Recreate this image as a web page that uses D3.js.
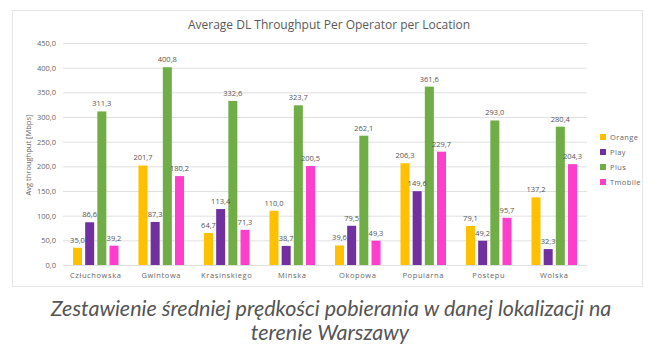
<!DOCTYPE html>
<html>
<head>
<meta charset="utf-8">
<script src="https://cdn.jsdelivr.net/npm/d3@7"></script>
<style>
    body { margin: 0; background: #fff; }
    #chart { width: 655px; height: 350px; }
</style>
</head>
<body>
<div id="chart"></div>
<script>
const locations = ['Człuchowska', 'Gwintowa', 'Krasinskiego', 'Minska', 'Okopowa', 'Popularna', 'Postepu', 'Wolska'];
const operators = ['Orange', 'Play', 'Plus', 'Tmobile'];
const orangeValues = [35.0, 201.7, 64.7, 110.0, 39.6, 206.3, 79.1, 137.2];
const playValues = [86.6, 87.3, 113.4, 38.7, 79.5, 149.6, 49.2, 32.3];
const plusValues = [311.3, 400.8, 332.6, 323.7, 262.1, 361.6, 293.0, 280.4];
const tmobileValues = [39.2, 180.2, 71.3, 200.5, 49.3, 229.7, 95.7, 204.3];
const yTicks = [0, 50, 100, 150, 200, 250, 300, 350, 400, 450];

const colors = ['#FFC000', '#7030A0', '#70AD47', '#FF3FCC'];
const series = [orangeValues, playValues, plusValues, tmobileValues];

let width = 655;
let height = 350;
let margin = { top: 43, right: 68, bottom: 85, left: 63 };

let fmt = v => d3.format('.1f')(v).replace('.', ',');

let data = locations.map((loc, i) => ({
    loc: loc,
    values: operators.map((op, j) => ({ op: op, value: series[j][i], color: colors[j] }))
}));

let x0 = d3.scaleBand()
    .domain(locations)
    .range([margin.left, width - margin.right])
    .paddingInner(0.305)
    .paddingOuter(0.1525);

let x1 = d3.scaleBand()
    .domain(operators)
    .range([0, x0.bandwidth()])
    .paddingInner(0.26);

let y = d3.scaleLinear()
    .domain([0, 450])
    .range([height - margin.bottom, margin.top]);

const svg = d3.select('#chart')
    .append('svg')
    .attr('width', width)
    .attr('height', height);

// chart frame
svg.append('rect')
    .attr('x', 12.5)
    .attr('y', 10.5)
    .attr('width', 630)
    .attr('height', 276)
    .attr('fill', '#fff')
    .attr('stroke', '#e6e6e6');

// gridlines + y labels
let yAxis = g => g
    .attr('transform', `translate(${margin.left},0)`)
    .call(d3.axisLeft(y)
        .tickValues(yTicks)
        .tickSize(-(width - margin.left - margin.right))
        .tickPadding(7)
        .tickFormat(fmt))
    .call(g => g.select('.domain').remove())
    .call(g => g.selectAll('.tick line').attr('stroke', '#e0e0e0'))
    .call(g => g.selectAll('.tick text')
        .attr('fill', '#666')
        .attr('font-size', '7.5px')
        .attr('font-family', 'Open Sans, sans-serif'));

svg.append('g').call(yAxis);

// x labels
let xAxis = g => g
    .attr('transform', `translate(0,${height - margin.bottom})`)
    .call(d3.axisBottom(x0).tickSize(0).tickPadding(8))
    .call(g => g.select('.domain').remove())
    .call(g => g.selectAll('.tick text')
        .attr('fill', '#666')
        .attr('font-size', '7.5px')
        .attr('letter-spacing', '0.6px')
        .attr('font-family', 'Open Sans, sans-serif'));

svg.append('g').call(xAxis);

// bars
let groups = svg.append('g')
    .selectAll('g')
    .data(data)
    .join('g')
    .attr('transform', d => `translate(${x0(d.loc)},0)`);

groups.selectAll('rect')
    .data(d => d.values)
    .join('rect')
    .attr('x', d => x1(d.op))
    .attr('y', d => y(d.value))
    .attr('width', x1.bandwidth())
    .attr('height', d => y(0) - y(d.value))
    .attr('fill', d => d.color);

groups.selectAll('text')
    .data(d => d.values)
    .join('text')
    .attr('x', d => x1(d.op) + x1.bandwidth() / 2)
    .attr('y', d => y(d.value) - 5)
    .attr('text-anchor', 'middle')
    .attr('fill', '#555')
    .attr('font-size', '7.5px')
    .attr('font-family', 'Open Sans, sans-serif')
    .text(d => fmt(d.value));

// title
svg.append('text')
    .attr('x', 329)
    .attr('y', 29)
    .attr('text-anchor', 'middle')
    .attr('fill', '#595959')
    .attr('font-size', '12px')
    .attr('font-family', 'Open Sans, sans-serif')
    .text('Average DL Throughput Per Operator per Location');

// y axis title
svg.append('text')
    .attr('transform', 'translate(31,155) rotate(-90)')
    .attr('text-anchor', 'middle')
    .attr('fill', '#666')
    .attr('font-size', '7.5px')
    .attr('font-family', 'Open Sans, sans-serif')
    .text('Avg throughput [Mbps]');

// legend
let legend = svg.append('g')
    .selectAll('g')
    .data(operators)
    .join('g')
    .attr('transform', (d, i) => `translate(600,${137 + i * 15})`);

legend.append('rect')
    .attr('x', 0)
    .attr('y', -3)
    .attr('width', 6)
    .attr('height', 6)
    .attr('fill', (d, i) => colors[i]);

legend.append('text')
    .attr('x', 10)
    .attr('y', 3)
    .attr('fill', '#666')
    .attr('font-size', '7.5px')
    .attr('letter-spacing', '0.4px')
    .attr('font-family', 'Open Sans, sans-serif')
    .text(d => d);

// caption below the chart
svg.append('text')
    .attr('x', 331)
    .attr('y', 316)
    .attr('text-anchor', 'middle')
    .attr('fill', '#555')
    .attr('font-size', '21.5px')
    .attr('font-style', 'italic')
    .attr('font-family', 'Lato, sans-serif')
    .text('Zestawienie średniej prędkości pobierania w danej lokalizacji na');

svg.append('text')
    .attr('x', 330)
    .attr('y', 340)
    .attr('text-anchor', 'middle')
    .attr('fill', '#555')
    .attr('font-size', '21.5px')
    .attr('font-style', 'italic')
    .attr('font-family', 'Lato, sans-serif')
    .text('terenie Warszawy');
</script>
</body>
</html>
